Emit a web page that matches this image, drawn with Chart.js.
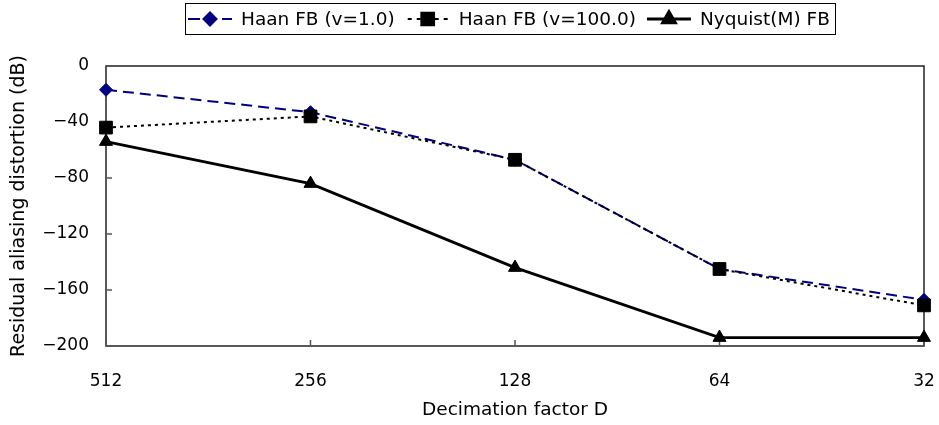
<!DOCTYPE html>
<html>
<head>
<meta charset="utf-8">
<script src="https://cdn.jsdelivr.net/npm/chart.js@4.4.1/dist/chart.umd.min.js"></script>
<style>
html,body{margin:0;padding:0;background:#fff;}
#wrap{width:939px;height:425px;position:relative;}
</style>
</head>
<body>
<div id="wrap"><canvas id="c" width="939" height="425"></canvas></div>
<script>
const categories = ['512', '256', '128', '64', '32'];
const haanV1 = [-17, -33, -67, -145, -167];
const haanV100 = [-44, -36, -67, -145, -171];
const nyquistM = [-54, -84, -144, -194, -194];
const seriesNames = ['Haan FB (v=1.0)', 'Haan FB (v=100.0)', 'Nyquist(M) FB'];
const yMin = -200, yMax = 0, yStep = 40;
const xTitle = 'Decimation factor D';
const yTitle = 'Residual aliasing distortion (dB)';

const FONT = '"DejaVu Sans", sans-serif';
const TICK_SIZE = 17;
const XTITLE_SIZE = 18.5;
const YTITLE_SIZE = 19;
const LEGEND_SIZE = 18.5;
const NAVY = '#000080';

const styles = [
  {color: NAVY, dash: [11, 6], width: 2, point: 'rectRot', radius: 6.5},
  {color: '#000', dash: [3, 4], width: 2, point: 'rect', radius: 9},
  {color: '#000', dash: [], width: 2.8, point: 'triangle', radius: 7.5}
];

function drawMarker(ctx, st, x, y) {
  Chart.helpers.drawPoint(ctx, {pointStyle: st.point, radius: st.radius, rotation: 0, borderWidth: 1}, x, y);
}

const framePlugin = {
  id: 'frame',
  beforeDatasetsDraw(chart) {
    const {ctx, chartArea: a, scales} = chart;
    ctx.save();
    ctx.strokeStyle = '#222';
    ctx.lineWidth = 1.5;
    ctx.strokeRect(a.left, a.top, a.right - a.left, a.bottom - a.top);
    ctx.lineWidth = 1.5;
    ctx.strokeStyle = '#555';
    const ys = scales.y;
    ys.ticks.forEach(t => {
      const py = ys.getPixelForValue(t.value);
      ctx.beginPath(); ctx.moveTo(a.left, py); ctx.lineTo(a.left + 6, py); ctx.stroke();
    });
    const xs = scales.x;
    categories.forEach((c, i) => {
      const px = xs.getPixelForValue(i);
      ctx.beginPath(); ctx.moveTo(px, a.bottom); ctx.lineTo(px, a.bottom - 6); ctx.stroke();
    });
    ctx.restore();
  },
  afterDraw(chart) {
    const ctx = chart.ctx;
    ctx.save();
    ctx.font = LEGEND_SIZE + 'px ' + FONT;
    ctx.textBaseline = 'middle';
    const lineLen = 44, markOff = 22, textOff = 53, itemGap = 11;
    const widths = seriesNames.map(s => ctx.measureText(s).width);
    let total = 0;
    widths.forEach((w, i) => { total += textOff + w + (i < widths.length - 1 ? itemGap : 0); });
    const padL = 3, padR = 5;
    const bw = total + padL + padR;
    const a = chart.chartArea;
    const bx = Math.round((a.left + a.right) / 2 - bw / 2) - 5;
    const by = 3, bh = 31;
    ctx.strokeStyle = '#000';
    ctx.lineWidth = 1;
    ctx.strokeRect(bx + 0.5, by + 0.5, Math.round(bw), bh);
    const cy = by + bh / 2 + 0.5;
    let x = bx + padL;
    seriesNames.forEach((name, i) => {
      const st = styles[i];
      ctx.strokeStyle = st.color;
      ctx.fillStyle = st.color;
      ctx.lineWidth = st.width;
      ctx.setLineDash(i === 0 ? [12, 5] : (i === 1 ? [4, 5] : []));
      ctx.lineDashOffset = i === 1 ? -2 : 0;
      ctx.beginPath(); ctx.moveTo(x, cy); ctx.lineTo(x + lineLen, cy); ctx.stroke();
      ctx.setLineDash([]);
      drawMarker(ctx, st, x + markOff, cy);
      ctx.fillStyle = '#000';
      ctx.fillText(name, x + textOff, cy + 1);
      x += textOff + widths[i] + itemGap;
    });
    ctx.restore();
  }
};

const data = [haanV1, haanV100, nyquistM];
const orders = [2, 1, 0];

new Chart(document.getElementById('c'), {
  type: 'line',
  data: {
    labels: categories,
    datasets: data.map((d, i) => ({
      label: seriesNames[i],
      data: d,
      borderColor: styles[i].color,
      backgroundColor: styles[i].color,
      borderWidth: styles[i].width,
      borderDash: styles[i].dash,
      pointStyle: styles[i].point,
      pointRadius: styles[i].radius,
      pointBorderWidth: 1,
      pointBackgroundColor: styles[i].color,
      pointBorderColor: styles[i].color,
      tension: 0,
      fill: false,
      order: orders[i],
      clip: false
    }))
  },
  options: {
    responsive: false,
    animation: false,
    events: [],
    layout: {padding: {left: 8, top: 66, right: 0, bottom: 4}},
    plugins: {legend: {display: false}, tooltip: {enabled: false}},
    scales: {
      x: {
        type: 'category',
        offset: false,
        grid: {display: false},
        border: {display: false},
        ticks: {color: '#000', font: {family: FONT, size: TICK_SIZE}, padding: 17, maxRotation: 0},
        title: {display: true, text: xTitle, color: '#000', font: {family: FONT, size: XTITLE_SIZE}, padding: {top: 4, bottom: 0}},
        afterFit(s) { s.height = 75; s.paddingRight = 15; s.paddingLeft = 0; }
      },
      y: {
        min: yMin, max: yMax,
        grid: {display: false},
        border: {display: false},
        ticks: {
          stepSize: yStep, color: '#000', font: {family: FONT, size: TICK_SIZE}, padding: 9,
          callback: v => v < 0 ? '\u2212' + Math.abs(v) : String(v)
        },
        title: {display: true, text: yTitle, color: '#000', font: {family: FONT, size: YTITLE_SIZE}, padding: {top: 0, bottom: 2}},
        afterFit(s) { s.width = 98; }
      }
    }
  },
  plugins: [framePlugin]
});
</script>
</body>
</html>
